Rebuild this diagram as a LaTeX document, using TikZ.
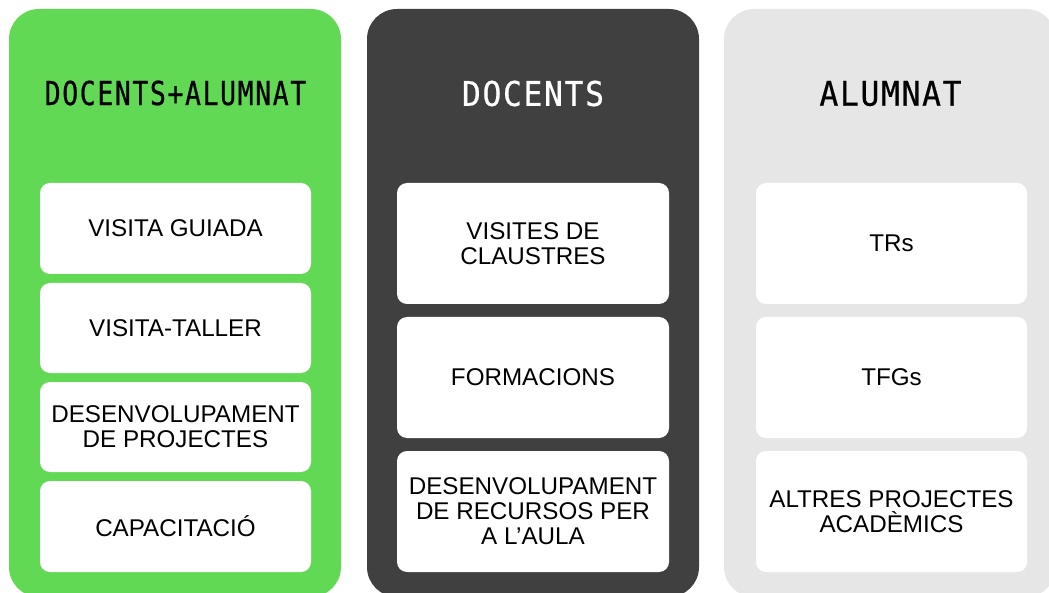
\documentclass[tikz,border=0pt]{standalone}
\usepackage{fontspec}
\setmainfont{Liberation Sans}
\newfontfamily\headfont[FakeStretch=0.8,LetterSpace=5,FakeBold=0.6]{DejaVu Sans Mono}
\newfontfamily\headfontwide[FakeStretch=0.92,LetterSpace=5,FakeBold=0.6]{DejaVu Sans Mono}
\definecolor{cgreen}{HTML}{62D955}
\definecolor{cdark}{HTML}{404040}
\definecolor{cgrey}{HTML}{E6E6E6}
\tikzset{
  colbox/.style={rectangle, rounded corners=30pt, minimum width=332pt, minimum height=588pt, inner sep=0pt, draw=none},
  itembox/.style={rectangle, rounded corners=10pt, fill=white, draw=none, minimum width=271pt, inner sep=0pt, align=center, font=\fontsize{24.2}{25}\selectfont},
  headtxt/.style={font=\headfont\fontsize{33}{33}\selectfont, inner sep=0pt},
  headtxtwide/.style={font=\headfontwide\fontsize{34}{34}\selectfont, inner sep=0pt}
}
\begin{document}
\begin{tikzpicture}[x=1pt,y=-1pt]
\useasboundingbox (0,0) rectangle (1049,593);
\clip (0,0) rectangle (1049,593);
% columns
\node[colbox, fill=cgreen] (c1) at (175,303) {};
\node[colbox, fill=cdark] (c2) at (533,303) {};
\node[colbox, fill=cgrey] (c3) at (890,303) {};
% headers
\node[headtxt, text=black] (h1) at (175.5,93) {DOCENTS+ALUMNAT};
\node[headtxtwide, text=white] (h2) at (533,93.5) {DOCENTS};
\node[headtxtwide, text=black] (h3) at (890.5,93.5) {ALUMNAT};
% green column items
\node[itembox, minimum height=91pt] (g1) at (175.5,228.5) {VISITA GUIADA};
\node[itembox, minimum height=90pt] (g2) at (175.5,328) {VISITA-TALLER};
\node[itembox, minimum height=90pt] (g3) at (175.5,427) {DESENVOLUPAMENT\\DE PROJECTES};
\node[itembox, minimum height=91pt] (g4) at (175.5,526.5) {CAPACITACIÓ};
% dark column items
\node[itembox, minimum width=272pt, minimum height=121pt] (d1) at (533,243.5) {VISITES DE\\CLAUSTRES};
\node[itembox, minimum width=272pt, minimum height=121pt] (d2) at (533,377.5) {FORMACIONS};
\node[itembox, minimum width=272pt, minimum height=121pt] (d3) at (533,511.5) {DESENVOLUPAMENT\\DE RECURSOS PER\\A L’AULA};
% grey column items
\node[itembox, minimum height=121pt] (a1) at (891.5,243.5) {TRs};
\node[itembox, minimum height=121pt] (a2) at (891.5,377.5) {TFGs};
\node[itembox, minimum height=121pt] (a3) at (891.5,511.5) {ALTRES PROJECTES\\ACADÈMICS};
\end{tikzpicture}
\end{document}
